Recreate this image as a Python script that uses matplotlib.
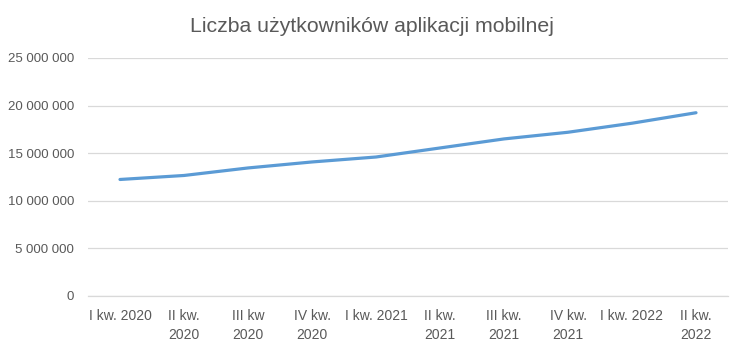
import matplotlib.pyplot as plt
import matplotlib.ticker as mticker

# Quarterly app users
quarters = ['I kw. 2020', 'II kw.\n2020', 'III kw\n2020', 'IV kw.\n2020', 'I kw. 2021',
            'II kw.\n2021', 'III kw.\n2021', 'IV kw.\n2021', 'I kw. 2022', 'II kw.\n2022']
users = [12_240_000, 12_660_000, 13_450_000, 14_080_000, 14_600_000,
         15_550_000, 16_500_000, 17_200_000, 18_150_000, 19_250_000]
y_ticks = [0, 5_000_000, 10_000_000, 15_000_000, 20_000_000, 25_000_000]

plt.rcParams['font.family'] = ['Liberation Sans', 'DejaVu Sans']
text_color = '#595959'
grid_color = '#D9D9D9'

fig = plt.figure(figsize=(7.43, 3.49), dpi=100)
ax = fig.add_axes([88 / 743, 1 - 296 / 349, 640 / 743, 238 / 349])

x = list(range(len(quarters)))
ax.plot(x, users, color='#5B9BD5', linewidth=2.3, solid_capstyle='round')

ax.set_xlim(-0.5, len(quarters) - 0.5)
ax.set_ylim(0, 25_000_000)
ax.set_yticks(y_ticks)
ax.yaxis.set_major_formatter(mticker.FuncFormatter(lambda v, p: f'{int(v):,}'.replace(',', ' ')))
ax.set_xticks(x)
ax.set_xticklabels(quarters, linespacing=1.5, va='top')

ax.grid(axis='y', color=grid_color, linewidth=0.9)
ax.set_axisbelow(True)
for side in ['top', 'right', 'left']:
    ax.spines[side].set_visible(False)
ax.spines['bottom'].set_color(grid_color)
ax.spines['bottom'].set_linewidth(0.9)
ax.tick_params(axis='both', length=0, colors=text_color)
ax.tick_params(axis='x', pad=9, labelsize=10)
ax.tick_params(axis='y', pad=10, labelsize=9.5)

fig.text(0.5, 1 - 26 / 349, 'Liczba użytkowników aplikacji mobilnej', ha='center', va='center',
         fontsize=15.3, color=text_color)

fig.savefig('out.png', dpi=100)
